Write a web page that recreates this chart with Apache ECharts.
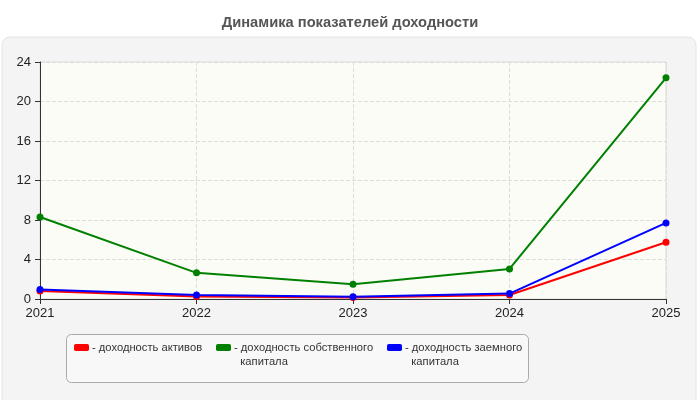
<!DOCTYPE html>
<html>
<head>
<meta charset="utf-8">
<script src="https://cdn.jsdelivr.net/npm/echarts@6/dist/echarts.min.js"></script>
<title>Динамика показателей доходности</title>
<style>
  html, body { margin: 0; padding: 0; background: #fff; }
</style>
</head>
<body>
<div id="chart" style="width:700px;height:400px"></div>
<script>
var years = ["2021", "2022", "2023", "2024", "2025"];
var assetsYield = [0.8, 0.25, 0.15, 0.4, 5.75];
var equityYield = [8.3, 2.65, 1.5, 3.05, 22.4];
var debtYield = [0.95, 0.4, 0.22, 0.55, 7.7];
var seriesNames = ["доходность активов", "доходность собственного капитала", "доходность заемного капитала"];
// leading blank line keeps the icon level with the first text line
var legendText = {
  "доходность активов": "- доходность активов",
  "доходность собственного капитала": "\n- доходность собственного\n  капитала",
  "доходность заемного капитала": "\n- доходность заемного\n  капитала"
};
var colors = ["#ff0000", "#008000", "#0000ff"];

function makeSeries(name, values, color) {
  return {
    name: name,
    type: "line",
    data: values,
    symbol: "circle",
    symbolSize: 7,
    lineStyle: { color: color, width: 2 },
    itemStyle: { color: color },
    animation: false
  };
}

function makeLegend(name, left, top) {
  return {
    data: [name],
    left: left, top: top,
    itemWidth: 15, itemHeight: 7,
    icon: "roundRect",
    padding: 0,
    formatter: function (n) { return legendText[n]; },
    textStyle: { fontSize: 11.2, color: "#333333", lineHeight: 14, padding: [0, 0, 0, -2] },
    selectedMode: false
  };
}

var chart = echarts.init(document.getElementById("chart"));
chart.setOption({
  backgroundColor: "#ffffff",
  textStyle: { fontFamily: "Liberation Sans, Arial, sans-serif" },
  title: {
    text: "Динамика показателей доходности",
    left: "center",
    top: 10,
    textStyle: { fontSize: 14.7, fontWeight: "bold", color: "#555555" }
  },
  graphic: [
    {
      type: "rect",
      shape: { x: 2, y: 37, width: 694, height: 370, r: 8 },
      style: { fill: "#f4f4f4", stroke: "#e4e4e4", lineWidth: 1 },
      z: -10
    },
    {
      type: "rect",
      shape: { x: 66.5, y: 334.5, width: 462, height: 48, r: 5 },
      style: { fill: "#f8f8f8", stroke: "#aaaaaa", lineWidth: 1 },
      z: -5
    }
  ],
  grid: {
    left: 40, right: 34, top: 62, bottom: 101,
    show: true,
    backgroundColor: "#fcfcf6",
    borderColor: "#dddddd",
    borderWidth: 1
  },
  legend: [
    makeLegend(seriesNames[0], 74, 340.5),
    makeLegend(seriesNames[1], 216, 326.5),
    makeLegend(seriesNames[2], 387, 326.5)
  ],
  xAxis: {
    type: "category",
    data: years,
    boundaryGap: false,
    axisLine: { lineStyle: { color: "#333333", width: 1 } },
    axisTick: { alignWithLabel: true, length: 5, lineStyle: { color: "#333333" } },
    axisLabel: { fontSize: 13, color: "#222222", margin: 8 },
    splitLine: { show: true, lineStyle: { color: "#dddddd", type: "dashed" } }
  },
  yAxis: {
    type: "value",
    min: 0, max: 24, interval: 4,
    axisLine: { show: true, lineStyle: { color: "#333333", width: 1 } },
    axisTick: { show: true, length: 5, lineStyle: { color: "#333333" } },
    axisLabel: { fontSize: 13, color: "#222222", margin: 9 },
    splitLine: { show: true, lineStyle: { color: "#dddddd", type: "dashed" } }
  },
  series: [
    makeSeries(seriesNames[0], assetsYield, colors[0]),
    makeSeries(seriesNames[1], equityYield, colors[1]),
    makeSeries(seriesNames[2], debtYield, colors[2])
  ]
});
</script>
</body>
</html>
